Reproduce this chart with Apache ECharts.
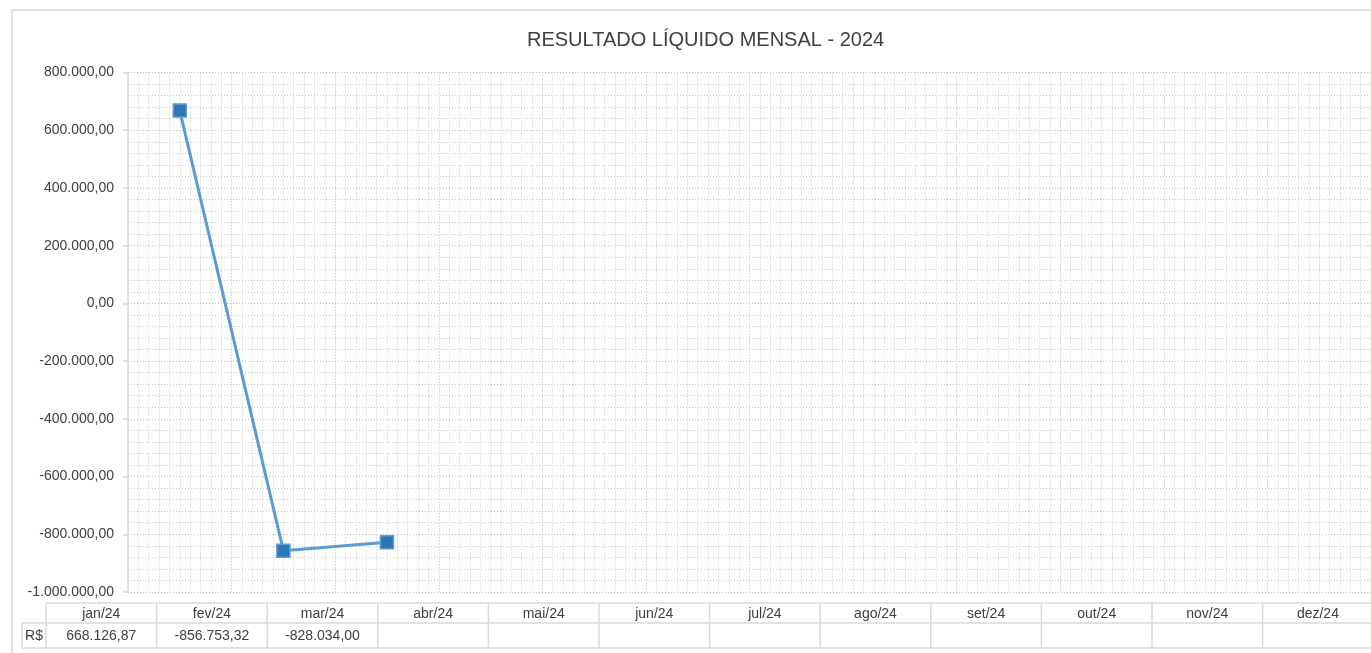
<!DOCTYPE html>
<html>
<head>
<meta charset="utf-8">
<title>Resultado Líquido Mensal - 2024</title>
<script src="https://cdn.jsdelivr.net/npm/echarts@6/dist/echarts.min.js"></script>
<style>
  html, body { margin: 0; padding: 0; background: #fff; }
  #chart { width: 1371px; height: 653px; }
</style>
</head>
<body>
<div id="chart"></div>
<script>
var titulo = 'RESULTADO LÍQUIDO MENSAL - 2024';
var meses = ['jan/24', 'fev/24', 'mar/24', 'abr/24', 'mai/24', 'jun/24',
             'jul/24', 'ago/24', 'set/24', 'out/24', 'nov/24', 'dez/24'];
var resultado = [668126.87, -856753.32, -828034.00, null, null, null,
                 null, null, null, null, null, null];
var serieNome = 'R$';
var yMin = -1000000;
var yMax = 800000;
var yPasso = 200000;

// formata no padrao brasileiro: 1.234.567,89
function brl(v) {
  if (v === null || v === undefined) return '';
  var neg = v < 0;
  var partes = Math.abs(v).toFixed(2).split('.');
  var inteiro = partes[0].replace(/\B(?=(\d{3})+(?!\d))/g, '.');
  return (neg ? '-' : '') + inteiro + ',' + partes[1];
}

var corTexto = '#404040';
var corBorda = '#d9d9d9';
var fonte = '"Liberation Sans", Arial, sans-serif';

// tabela de dados abaixo do grafico
function montaTabela() {
  var els = [];
  var x0 = 46, larg = 110.6, yTopo = 603, yMeio = 623, yBase = 648;
  var xFim = x0 + larg * meses.length;
  var linha = function(x1, y1, x2, y2) {
    els.push({
      type: 'line',
      shape: { x1: x1, y1: y1, x2: x2, y2: y2 },
      style: { stroke: corBorda, lineWidth: 1.5 },
      silent: true
    });
  };
  linha(x0, yTopo, xFim, yTopo);
  linha(22, yMeio, xFim, yMeio);
  linha(22, yBase, xFim, yBase);
  linha(22, yMeio, 22, yBase);
  for (var i = 0; i <= meses.length; i++) {
    linha(x0 + i * larg, yTopo, x0 + i * larg, yBase);
  }
  els.push({
    type: 'text', x: 34, y: (yMeio + yBase) / 2 + 1,
    style: { text: serieNome, fill: corTexto, font: '14px ' + fonte, align: 'center', verticalAlign: 'middle' }
  });
  meses.forEach(function(m, i) {
    var cx = x0 + i * larg + larg / 2;
    els.push({
      type: 'text', x: cx, y: (yTopo + yMeio) / 2 + 1,
      style: { text: m, fill: corTexto, font: '14px ' + fonte, align: 'center', verticalAlign: 'middle' }
    });
    els.push({
      type: 'text', x: cx, y: (yMeio + yBase) / 2 + 1,
      style: { text: brl(resultado[i]), fill: corTexto, font: '14px ' + fonte, align: 'center', verticalAlign: 'middle' }
    });
  });
  return els;
}

var grade = {
  show: true,
  lineStyle: { color: '#b8b8b8', type: [1, 2], width: 1 }
};
var gradeMenor = {
  show: true,
  lineStyle: { color: '#c6c6c6', type: [1, 2], width: 1 }
};

var mychart = echarts.init(document.getElementById('chart'), null, { renderer: 'canvas' });
var options = {
  backgroundColor: '#fff',
  animation: false,
  title: {
    text: titulo,
    left: 522,
    top: 25,
    textStyle: {
      color: corTexto,
      fontSize: 20,
      fontWeight: 'normal',
      fontFamily: fonte
    }
  },
  grid: {
    left: 128,
    right: 0,
    top: 72.5,
    bottom: 61,
    containLabel: false
  },
  xAxis: [{
    type: 'category',
    data: meses,
    boundaryGap: true,
    axisLine: { show: false },
    axisTick: { show: false },
    axisLabel: { show: false },
    splitLine: { show: false }
  }, {
    type: 'value',
    position: 'top',
    min: 0,
    max: meses.length,
    interval: 1,
    axisLine: { show: false },
    axisTick: { show: false },
    axisLabel: { show: false },
    splitLine: grade,
    minorTick: { show: false, splitNumber: 10 },
    minorSplitLine: gradeMenor
  }],
  yAxis: {
    type: 'value',
    min: yMin,
    max: yMax,
    interval: yPasso,
    axisLine: { show: true, lineStyle: { color: corBorda, width: 1.5 } },
    axisTick: { show: true, length: 5, lineStyle: { color: corBorda, width: 1.5 } },
    axisLabel: {
      color: corTexto,
      fontSize: 14,
      fontFamily: fonte,
      margin: 14,
      formatter: function(v) { return brl(v); }
    },
    splitLine: grade,
    minorTick: { show: false, splitNumber: 5 },
    minorSplitLine: gradeMenor
  },
  series: [{
    name: serieNome,
    type: 'line',
    xAxisIndex: 0,
    data: resultado,
    symbol: 'rect',
    symbolSize: 13,
    connectNulls: false,
    lineStyle: { color: '#5b9bd5', width: 3 },
    itemStyle: { color: '#2e75b6', borderColor: '#5b9bd5', borderWidth: 1.5 }
  }],
  graphic: [{
    type: 'rect',
    shape: { x: 12, y: 10, width: 1400, height: 700 },
    style: { fill: 'none', stroke: corBorda, lineWidth: 1.5 },
    silent: true,
    z: -1
  }].concat(montaTabela())
};
mychart.setOption(options);
</script>
</body>
</html>
